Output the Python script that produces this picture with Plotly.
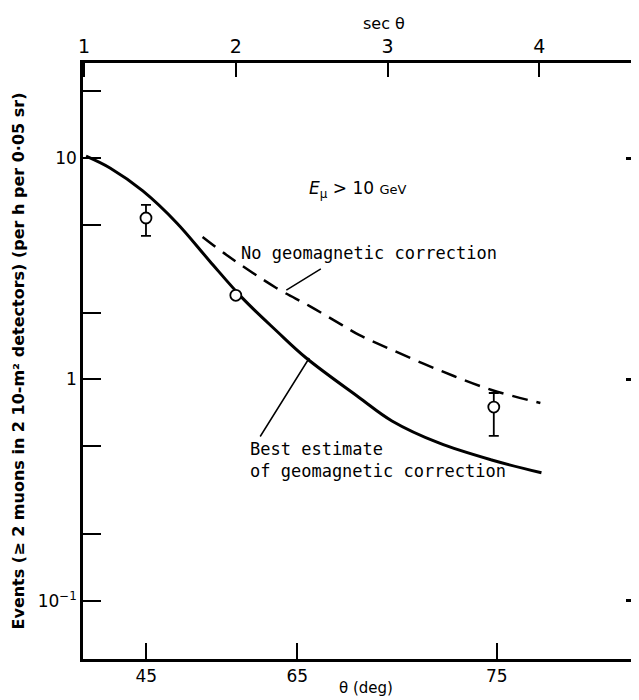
import plotly.graph_objects as go
import math

# ---- data (x in sec(theta), y in events per h per 0.05 sr) ----
sec_solid = [1.013, 1.171, 1.387, 1.611, 1.827, 2.044, 2.267, 2.464, 2.812, 3.029, 3.338, 3.686, 4.014]
events_solid = [10.2, 9.02, 7.10, 5.09, 3.43, 2.33, 1.66, 1.25, 0.83, 0.65, 0.517, 0.433, 0.379]

sec_dash = [1.781, 1.939, 2.267, 2.484, 2.701, 2.812, 3.029, 3.357, 3.686, 4.007]
events_dash = [4.40, 3.65, 2.59, 2.15, 1.76, 1.59, 1.36, 1.09, 0.897, 0.783]

sec_pts = [1.408, 2.0, 3.70]
events_pts = [5.36, 2.40, 0.751]
err_plus = [0.78, None, 0.118]
err_minus = [0.91, None, 0.195]

top_ticks = [1, 2, 3, 4]
top_labels = ["1", "2", "3", "4"]
bottom_tick_pos = [1.41, 2.405, 3.72]
bottom_labels = ["45", "65", "75"]
y_ticks = [20, 10, 5, 2, 1, 0.5, 0.2, 0.1]
y_labels = ["", "10", "", "", "1", "", "", "10<sup>−1</sup>"]
y_major = [10, 1, 0.1]
y_minor = [20, 5, 2, 0.5, 0.2]

x_range = [0.993, 4.703]
y_range = [-1.262, 1.429]

fig = go.Figure()
fig.add_trace(go.Scatter(x=sec_solid, y=events_solid, mode="lines",
                         line=dict(color="black", width=3, shape="spline"),
                         showlegend=False, hoverinfo="skip"))
fig.add_trace(go.Scatter(x=sec_dash, y=events_dash, mode="lines",
                         line=dict(color="black", width=2.5, dash="16px,9px", shape="spline"),
                         showlegend=False, hoverinfo="skip"))
fig.add_trace(go.Scatter(x=sec_pts, y=events_pts, mode="markers",
                         marker=dict(symbol="circle", size=11, color="white",
                                     line=dict(color="black", width=1.8)),
                         error_y=dict(type="data", symmetric=False, array=err_plus,
                                      arrayminus=err_minus, color="black", thickness=1.8, width=5),
                         showlegend=False, hoverinfo="skip"))
fig.add_trace(go.Scatter(x=[None], y=[None], xaxis="x2", yaxis="y2",
                         showlegend=False, hoverinfo="skip"))

tickfont = dict(family="DejaVu Sans", size=17, color="black")
mono = dict(family="DejaVu Sans Mono", size=17, color="black")

fig.update_layout(
    width=639, height=700,
    margin=dict(l=75, r=1, t=55, b=49),
    plot_bgcolor="white", paper_bgcolor="white",
    xaxis=dict(range=x_range, tickvals=bottom_tick_pos, ticktext=bottom_labels,
               ticks="inside", ticklen=16, tickwidth=2, tickcolor="black",
               showline=True, linewidth=2.5, linecolor="black", mirror=False,
               showgrid=False, zeroline=False, tickfont=tickfont),
    xaxis2=dict(range=x_range, overlaying="x", side="top", tickvals=top_ticks,
                ticktext=top_labels, ticks="inside", ticklen=14, tickwidth=2,
                tickcolor="black", showline=True, linewidth=2.5, linecolor="black",
                showgrid=False, zeroline=False,
                tickfont=dict(family="DejaVu Sans", size=19, color="black")),
    yaxis=dict(type="log", range=y_range, tickvals=y_ticks, ticktext=y_labels,
               ticks="inside", ticklen=18, tickwidth=2, tickcolor="black",
               showline=True, linewidth=2.5, linecolor="black", mirror=False,
               showgrid=False, zeroline=False, tickfont=tickfont,
               title=dict(text="Events (≥ 2 muons in 2 10-m² detectors) (per h per 0·05 sr)",
                          font=dict(family="DejaVu Sans", size=16, color="black", weight="bold"),
                          standoff=10)),
    yaxis2=dict(type="log", range=y_range, overlaying="y", side="right",
                tickvals=y_major, ticks="inside", ticklen=20, tickwidth=2.5, tickcolor="black",
                showticklabels=False, showline=False, showgrid=False, zeroline=False,
                minor=dict(tickvals=y_minor, ticks="inside", ticklen=14, tickwidth=2.5,
                           tickcolor="black", showgrid=False)),
    annotations=[
        dict(text="sec θ", xref="paper", yref="paper", x=(376 - 75) / 563, y=(651 - 15) / 596,
             showarrow=False, font=dict(family="DejaVu Sans", size=16, color="black"),
             xanchor="center", yanchor="middle"),
        dict(text="θ (deg)", xref="paper", yref="paper", x=(358 - 75) / 563, y=(651 - 680) / 596,
             showarrow=False, font=dict(family="DejaVu Sans", size=15, color="black"),
             xanchor="center", yanchor="middle"),
        dict(text="<i>E</i><sub>μ</sub> > 10 <span style='font-size:13px'>GeV</span>",
             x=2.80, y=0.856, xref="x", yref="y", showarrow=False,
             font=dict(family="DejaVu Sans", size=17, color="black"),
             xanchor="center", yanchor="middle"),
        dict(text="No geomagnetic correction", x=2.02, y=0.571, xref="x", yref="y",
             showarrow=False, font=mono, xanchor="left", yanchor="middle"),
        dict(text="Best estimate<br>of geomagnetic correction", x=2.08, y=-0.365,
             xref="x", yref="y", showarrow=False, font=mono, xanchor="left",
             yanchor="middle", align="left"),
        dict(text="", x=2.333, y=0.404, xref="x", yref="y", showarrow=True,
             arrowhead=0, arrowwidth=1.5, arrowcolor="black", ax=36, ay=-22, standoff=0),
        dict(text="", x=2.484, y=0.097, xref="x", yref="y", showarrow=True,
             arrowhead=0, arrowwidth=1.5, arrowcolor="black", ax=-50, ay=80, standoff=0),
    ],
)

fig.write_html("out.html")
